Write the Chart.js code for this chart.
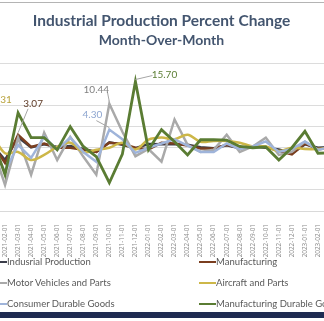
<!DOCTYPE html>
<html>
<head>
<meta charset="utf-8">
<script src="https://cdn.jsdelivr.net/npm/chart.js@4/dist/chart.umd.min.js"></script>
<style>
body { margin:0; width:324px; height:321px; overflow:hidden; background:#fff; position:relative; font-family: Lato, sans-serif; }
#wrap { position:absolute; left:-30px; top:0; }
.topline { position:absolute; left:0; top:2px; width:324px; height:1px; background:#b4b4b4; }
.bottombar { position:absolute; left:0; top:312px; width:324px; height:6px; background:#1f2b52; }
.item { position:absolute; height:21px; line-height:21px; font-size:9.5px; color:#595959; white-space:nowrap; }
.item .mk { position:absolute; top:10px; width:17px; height:2px; }
</style>
</head>
<body>
<div class="topline"></div>
<div id="wrap"><canvas id="myChart" width="380" height="264"></canvas></div>
<div id="legend"></div>
<div class="bottombar"></div>
<script>
var months = ["2021-01-01","2021-02-01","2021-03-01","2021-04-01","2021-05-01","2021-06-01","2021-07-01",
  "2021-08-01","2021-09-01","2021-10-01","2021-11-01","2021-12-01","2022-01-01","2022-02-01","2022-03-01",
  "2022-04-01","2022-05-01","2022-06-01","2022-07-01","2022-08-01","2022-09-01","2022-10-01","2022-11-01",
  "2022-12-01","2023-01-01","2023-02-01","2023-03-01"];

var industrial = [0.8, -2.9, 2.5, 0.1, 0.8, 0.2, 0.4, -0.3, -1.0, 1.3, 0.7, -0.1, 0.9, 0.8, 0.8, 0.7, 0.1, -0.1, 0.6, -0.1, 0.3, 0.0, -0.4, -1.3, 0.8, 0.0, 0.2];
var manufacturing = [1.0, -3.6, 3.07, 0.2, 1.0, 0.0, 0.0, -0.5, -1.0, 1.2, 0.9, 0.0, -0.4, 1.2, 1.0, 0.5, -0.2, -0.2, 0.7, 0.0, 0.3, 0.2, -0.8, -1.6, 1.0, -0.3, 0.1];
var motorVehicles = [0.5, -8.8, 2.4, -6.4, 3.6, -2.9, 2.6, -2.1, -6.4, 10.44, 3.8, -2.0, -0.3, -3.3, 6.7, 0.7, -1.0, -0.5, 3.1, -1.0, 0.3, 2.4, -1.7, -1.0, 1.4, -0.5, 0.2];
var aircraft = [3.31, -1.3, -1.0, -2.9, -1.7, 0.2, 1.2, -1.0, -0.5, 0.0, 1.2, -0.4, 1.9, 2.4, 2.0, 3.1, 1.4, 1.6, 1.6, 1.2, 0.3, 0.3, -0.8, 0.0, -0.3, -0.3, 0.0];
var consumerDurable = [0.5, -5.7, 0.7, -2.4, 2.6, -0.5, 2.4, -1.0, -3.3, 4.30, 2.0, -1.2, 0.0, 1.0, 2.0, 0.5, -1.0, -1.0, 1.0, -0.3, 0.3, 1.5, -1.0, -0.3, 1.5, -0.5, 0.2];
var durableGoods = [2.5, -6.4, 8.3, 2.4, 2.4, -0.5, 5.0, 0.3, -2.1, -8.3, -1.5, 15.70, -0.5, 4.3, 1.4, -1.7, 1.9, 1.9, 1.8, 0.3, 0.0, 0.2, -2.9, 0.0, 3.9, -1.3, -1.2];

var seriesNames = ["Indusrial Production", "Manufacturing", "Motor Vehicles and Parts", "Aircraft and Parts", "Consumer Durable Goods", "Manufacturing Durable Goods"];
var seriesData = [industrial, manufacturing, motorVehicles, aircraft, consumerDurable, durableGoods];
var lineColors = ["#3b3d4a", "#7a3e1f", "#a9a9a9", "#cdb748", "#9fb4da", "#5a7c33"];
var labelColors = ["#3b3d4a", "#5e3a26", "#7f7f7f", "#b9a33c", "#8ea6d0", "#5c7e35"];

// which points get a value label: [series, month index, label offset x, y, leader start x, y]
var callouts = [
  [3, 0, 10, -34, -4, 6],
  [1, 2, 15, -31, -5, 5],
  [2, 9, -13, -14, 11, 2],
  [4, 9, -17, -15, 4, 6],
  [5, 11, 29, -7, -12, 1]
];

var calloutPlugin = {
  id: "callouts",
  afterDatasetsDraw: function(chart) {
    var ctx = chart.ctx;
    ctx.save();
    ctx.font = "10px Lato";
    ctx.textAlign = "center";
    ctx.textBaseline = "middle";
    callouts.forEach(function(c) {
      var pt = chart.getDatasetMeta(c[0]).data[c[1]];
      var lx = pt.x + c[2], ly = pt.y + c[3];
      ctx.strokeStyle = "#a6a6a6";
      ctx.lineWidth = 1;
      ctx.beginPath();
      ctx.moveTo(lx + c[4], ly + c[5]);
      ctx.lineTo(pt.x, pt.y - 2);
      ctx.stroke();
      ctx.fillStyle = labelColors[c[0]];
      ctx.fillText(seriesData[c[0]][c[1]].toFixed(2), lx, ly);
    });
    ctx.restore();
  }
};

var datasets = seriesData.map(function(d, k) {
  return {
    label: seriesNames[k],
    data: d,
    borderColor: lineColors[k],
    backgroundColor: lineColors[k],
    borderWidth: k == 5 ? 2.8 : 2.5,
    pointRadius: 0,
    tension: k == 3 ? 0.35 : 0,
    order: 6 - k
  };
});

new Chart("myChart", {
  type: "line",
  data: { labels: months, datasets: datasets },
  plugins: [calloutPlugin],
  options: {
    responsive: false,
    animation: false,
    layout: { padding: { left: 22, right: 19, top: 0, bottom: 0 } },
    plugins: {
      legend: { display: false },
      tooltip: { enabled: false },
      title: {
        display: true,
        text: "Industrial Production Percent Change",
        color: "#43556f",
        font: { family: "Lato", size: 15.5, weight: "bold" },
        padding: { top: 12, bottom: 1 }
      },
      subtitle: {
        display: true,
        text: "Month-Over-Month",
        color: "#43556f",
        font: { family: "Lato", size: 14, weight: "bold" },
        padding: { top: 0, bottom: 15 }
      }
    },
    scales: {
      x: {
        offset: false,
        grid: { display: false },
        border: { color: "#d9d9d9" },
        ticks: {
          autoSkip: false, minRotation: 90, maxRotation: 90, padding: 5,
          color: "#8c8c8c", font: { family: "Open Sans", size: 6.4 }
        },
        afterFit: function(s) { s.height = 53; }
      },
      y: {
        min: -15, max: 20,
        ticks: { display: false, stepSize: 5 },
        grid: { color: "#dcdcdc", drawTicks: false },
        border: { display: false },
        afterFit: function(s) { s.width = 0; }
      }
    }
  }
});

// legend in two columns under the plot
var legend = document.getElementById("legend");
var legendSlots = [[-10, 251], [199, 251], [-10, 272], [199, 272], [-10, 293], [199, 293]];
seriesNames.forEach(function(name, k) {
  var el = document.createElement("div");
  el.className = "item";
  el.style.left = legendSlots[k][0] + "px";
  el.style.top = legendSlots[k][1] + "px";
  el.style.paddingLeft = "17px";
  el.innerHTML = '<span class="mk" style="left:0;background:' + lineColors[k] + '"></span>' + name;
  legend.appendChild(el);
});
</script>
</body>
</html>
